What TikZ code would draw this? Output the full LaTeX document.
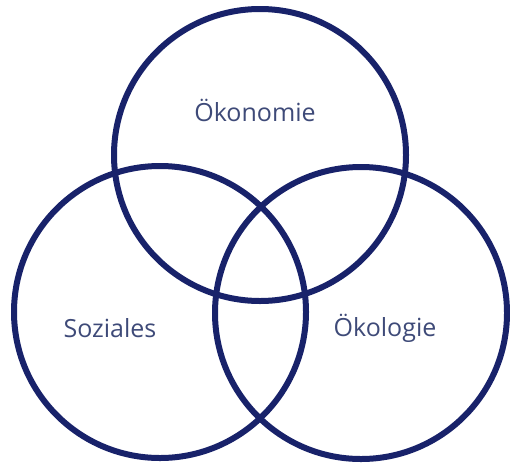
\documentclass[tikz,border=0pt]{standalone}
\usepackage{fontspec}
\setmainfont{Open Sans}
\usepackage{tikz}
\usetikzlibrary{positioning}

\definecolor{ringblue}{HTML}{18226A}
\definecolor{labelblue}{HTML}{3E4A78}

\begin{document}
\begin{tikzpicture}[x=1pt,y=-1pt,thick,set node/.style={circle,draw=ringblue,line width=6pt,minimum size=292pt,inner sep=0pt},label node/.style={text=labelblue,font=\fontsize{25}{30}\selectfont}]
				\useasboundingbox (0,0) rectangle (510,466);

				\node[set node] (OEK) at (260,155) {};
				\node[set node] (SOZ) at (160,312) {};
				\node[set node] (OEKO) at (361,313) {};

				\node[label node] (ok) at (255,110) {Ökonomie};
				\node[label node] (so) at (110,328) {Soziales};
				\node[label node] (ol) at (385,328) {Ökologie};

				\end{tikzpicture}
\end{document}
